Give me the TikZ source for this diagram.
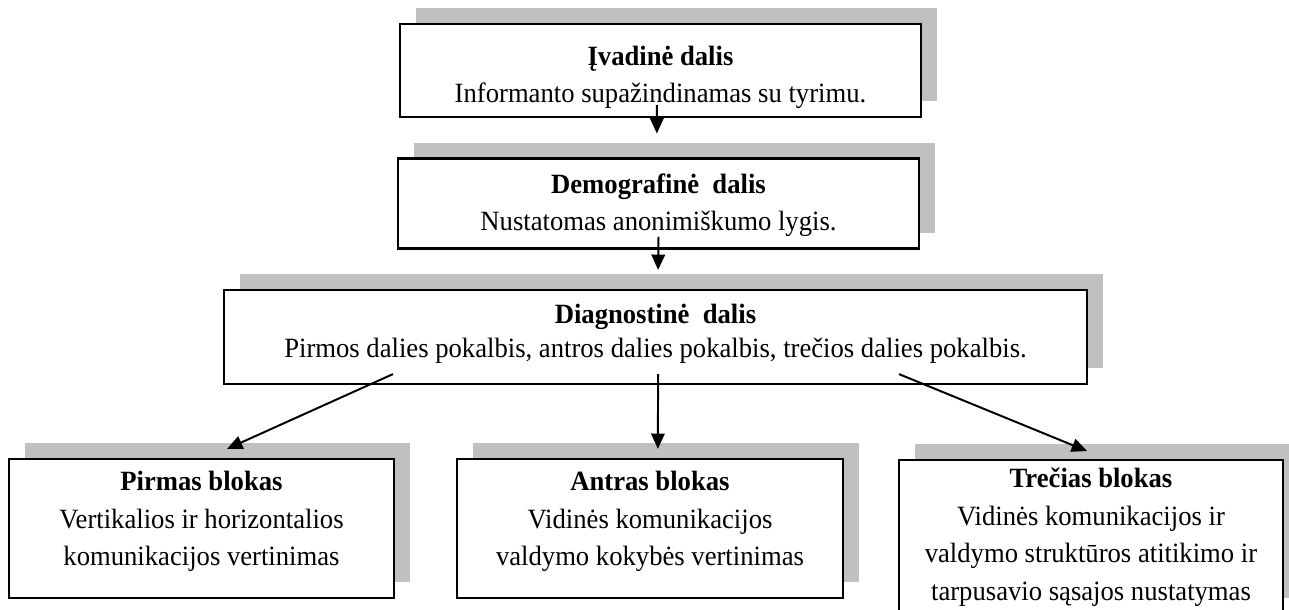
\documentclass[tikz,border=0pt]{standalone}
\usepackage{fontspec}
\setmainfont{Liberation Serif}[FakeStretch=0.955]
\usetikzlibrary{arrows.meta,shadows}
\definecolor{shade}{HTML}{C0C0C0}
% lines of a box, with a fixed top (#1) and bottom (#2) allowance
\newcommand\boxlines[3]{\rule{0pt}{#1}#3\rule[-#2]{0pt}{0pt}}
\begin{document}
\begin{tikzpicture}[x=0.43pt,y=-0.43pt,
  box/.style={draw=black, line width=0.9pt, fill=white, align=center, inner sep=0pt,
    drop shadow={shadow xshift=6.88pt, shadow yshift=6.88pt, fill=shade, opacity=1}},
  link/.style={line width=0.85pt, -{Triangle[length=6.6pt,width=5.8pt]}}]
\useasboundingbox (0,0) rectangle (1289,609);
\clip (0,0) rectangle (1289,609);

% three stacked stages
\node[box, minimum width=224pt, minimum height=40pt,
      font=\fontsize{12}{15.5}\selectfont] (b1) at (660.5,70.5)
  {\boxlines{14.4pt}{2.8pt}{\textbf{Įvadinė dalis}\\Informanto supažindinamas su tyrimu.}};
\node[box, minimum width=224pt, minimum height=38.7pt,
      font=\fontsize{12}{15.9}\selectfont] (b2) at (658.5,203.5)
  {\boxlines{11pt}{4.1pt}{\textbf{Demografinė\ \ dalis}\\Nustatomas anonimiškumo lygis.}};
\node[box, minimum width=371.1pt, minimum height=40.4pt,
      font=\fontsize{12}{14.6}\selectfont] (b3) at (655.5,337)
  {\boxlines{11pt}{8.4pt}{\textbf{Diagnostinė\ \ dalis}\\Pirmos dalies pokalbis, antros dalies pokalbis, trečios dalies pokalbis.}};

% three blocks of the diagnostic part
\node[box, minimum width=165.6pt, minimum height=59.8pt,
      font=\fontsize{12}{16.3}\selectfont] (b4) at (201.5,528.5)
  {\boxlines{11pt}{11.4pt}{\textbf{Pirmas blokas}\\Vertikalios ir horizontalios\\komunikacijos vertinimas}};
\node[box, minimum width=166pt, minimum height=59.8pt,
      font=\fontsize{12}{16.3}\selectfont] (b5) at (650,528.5)
  {\boxlines{11pt}{11.4pt}{\textbf{Antras blokas}\\Vidinės komunikacijos\\valdymo kokybės vertinimas}};
\node[box, minimum width=165.1pt, minimum height=66.2pt,
      font=\fontsize{12}{16.3}\selectfont] (b6) at (1091,537)
  {\boxlines{11pt}{5pt}{\textbf{Trečias blokas}\\Vidinės komunikacijos ir\\valdymo struktūros atitikimo ir\\tarpusavio sąsajos nustatymas}};

% connectors
\draw[link] ([xshift=-1.6pt,yshift=5.6pt]b1.south) -- ([xshift=-0.7pt,yshift=10.3pt]b2.north);
\draw[link] ([xshift=0pt,yshift=5.6pt]b2.south) -- ([xshift=1.1pt,yshift=8.2pt]b3.north);
\draw[link] ([xshift=73.1pt,yshift=4.7pt]b3.south west) -- ([xshift=11pt,yshift=3.9pt]b4.north);
\draw[link] ([xshift=1.1pt,yshift=4.7pt]b3.south) -- ([xshift=3.4pt,yshift=3.9pt]b5.north);
\draw[link] ([xshift=-81.3pt,yshift=4.7pt]b3.south east) -- ([xshift=-1.7pt,yshift=3.4pt]b6.north);
\end{tikzpicture}
\end{document}
